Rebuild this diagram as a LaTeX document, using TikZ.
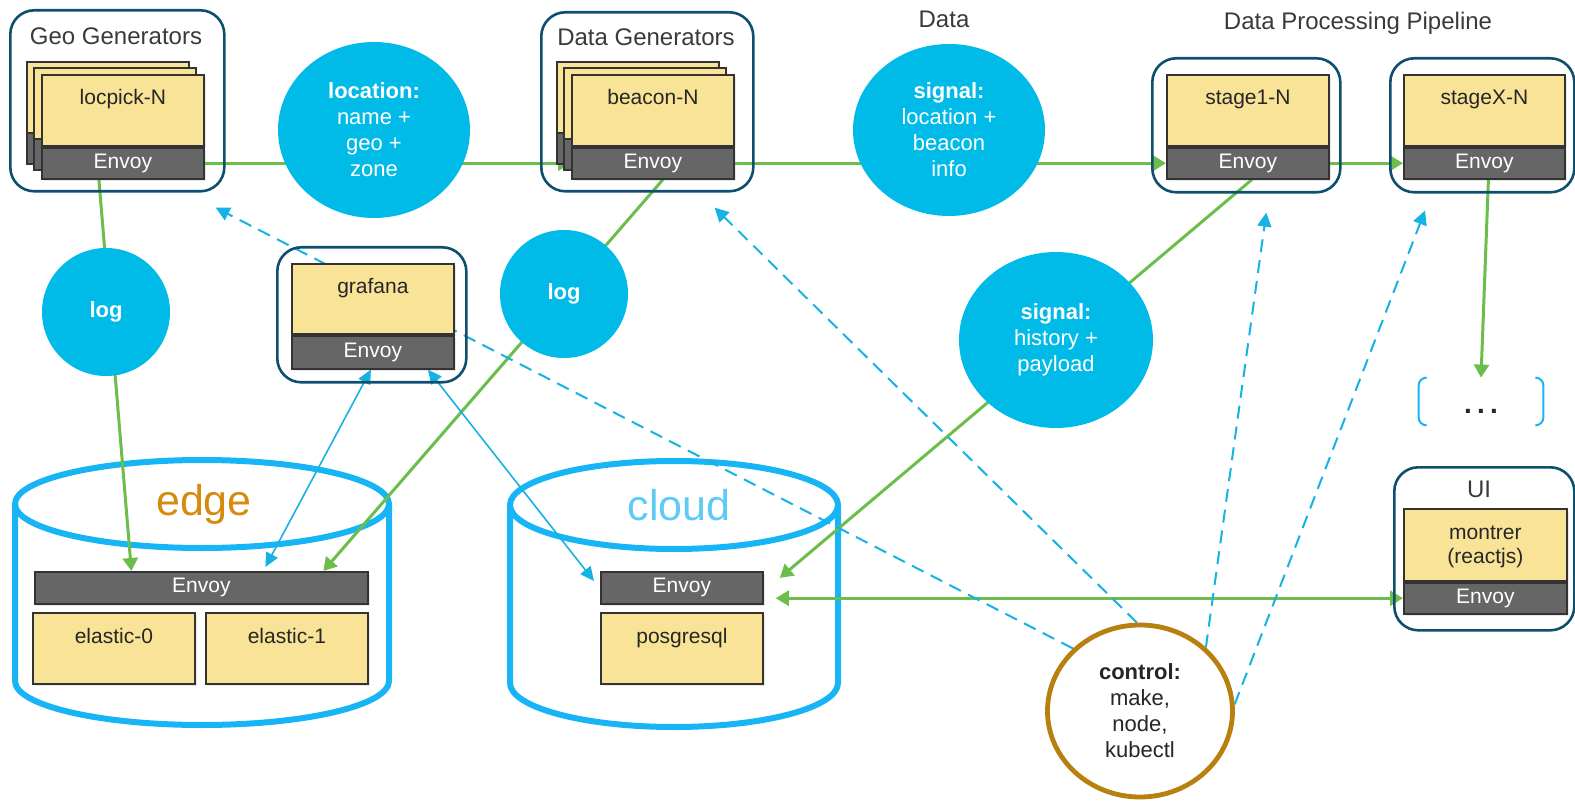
\documentclass[tikz,border=0pt]{standalone}
\usepackage{fontspec}
\setmainfont{Liberation Sans}
\usetikzlibrary{positioning,shapes.geometric,arrows.meta,shadows}
\definecolor{cardyellow}{HTML}{F9E396}
\definecolor{envoygray}{HTML}{666666}
\definecolor{boxteal}{HTML}{0E4E6E}
\definecolor{bubblecyan}{HTML}{00BBE7}
\definecolor{dbblue}{HTML}{17B5F5}
\definecolor{lineblue}{HTML}{16B2E4}
\definecolor{arrowgreen}{HTML}{6BBE4B}
\definecolor{edgeorange}{HTML}{D68A0E}
\definecolor{cloudblue}{HTML}{5CCBF5}
\definecolor{ctrlgold}{HTML}{B8800F}
\definecolor{titlegray}{HTML}{3A3A3A}
\newcommand\cardfont{\fontsize{10.5}{12}\selectfont}
\newcommand\bubfont{\fontsize{11}{13}\selectfont}
\newcommand\ttlfont{\fontsize{12}{14}\selectfont}
\pgfdeclarelayer{bg}
\pgfsetlayers{bg,main}

\begin{document}
\begin{tikzpicture}[x=0.5pt,y=-0.5pt,
  grp/.style={draw=boxteal,line width=1.3pt,rounded corners=12pt,anchor=north west,inner sep=0pt},
  card/.style={draw=black!80,line width=0.9pt,fill=cardyellow,anchor=north west,inner sep=0pt,
    minimum width=81pt,minimum height=35.5pt,
    drop shadow={opacity=0.18,shadow xshift=1pt,shadow yshift=-1pt}},
  cardlbl/.style={anchor=base,yshift=-15.5pt,font=\cardfont,text=black!85},
  envoy/.style={draw=black!80,line width=0.9pt,fill=envoygray,text=white,inner sep=0pt,
    minimum width=81pt,minimum height=15.5pt,font=\cardfont,
    drop shadow={opacity=0.18,shadow xshift=1pt,shadow yshift=-1pt}},
  back/.style={draw=black!80,line width=0.9pt},
  bubble/.style={ellipse,fill=bubblecyan,text=white,align=center,inner sep=0pt,font=\bubfont},
  ttl/.style={anchor=base,font=\ttlfont,text=titlegray},
  db/.style={draw=dbblue,line width=3pt},
  garrow/.style={draw=arrowgreen,line width=1.5pt,-{Triangle[length=6.5pt,width=7.5pt]}},
  barrow/.style={draw=lineblue,line width=0.8pt,
    {Triangle[length=7pt,width=6.5pt]}-{Triangle[length=7pt,width=6.5pt]}},
  ctrl/.style={draw=lineblue,line width=1pt,dash pattern=on 6.5pt off 4pt,
    -{Triangle[length=7pt,width=7pt]}},
  brk/.style={draw=dbblue,line width=1pt,rounded corners=4pt}
]

\newcommand\BRK{3.5pt}

\useasboundingbox (0,0) rectangle (1575,802);

  %% databases
  \begin{pgfonlayer}{bg}
  \draw[db] (15,504) -- (15,681) arc[start angle=180,end angle=360,x radius=93.5pt,y radius=22pt]
    -- (389,504);
  \draw[db] (202,504) ellipse [x radius=93.5pt,y radius=22pt];
  \draw[db] (510,505) -- (510,683) arc[start angle=180,end angle=360,x radius=82pt,y radius=22pt]
    -- (838,505);
  \draw[db] (674,505) ellipse [x radius=82pt,y radius=22pt];
  \end{pgfonlayer}
  \node[font=\fontsize{21.5}{24}\selectfont,text=edgeorange] (edgeLabel) at (204,504) {edge};
  \node[font=\fontsize{21.5}{24}\selectfont,text=cloudblue] (cloudLabel) at (679,505) {cloud};

  %% groups
  \node[grp,minimum width=107pt,minimum height=90.5pt] (geoBox) at (9,9) {};
  \node[grp,minimum width=106pt,minimum height=89.5pt] (dataBox) at (540,11) {};
  \node[grp,minimum width=94pt,minimum height=67pt] (stageOneBox) at (1151,57) {};
  \node[grp,minimum width=92pt,minimum height=67pt] (stageXBox) at (1389,57) {};
  \node[grp,minimum width=94.5pt,minimum height=67.5pt] (grafanaBox) at (276,246) {};
  \node[grp,minimum width=90pt,minimum height=81.5pt] (uiBox) at (1393,466) {};

  %% titles
  \node[ttl] (geoTitle) at (116,45) {Geo Generators};
  \node[ttl] (dataTitle) at (646,46) {Data Generators};
  \node[ttl] (dataLbl) at (944,28) {Data};
  \node[ttl] (pipeTitle) at (1358,30) {Data Processing Pipeline};
  \node[ttl] (uiTitle) at (1479,497) {UI};

  %% stacked copies
  \draw[back,fill=cardyellow] (27,62) rectangle (189,133);
  \draw[back,fill=envoygray] (27,133) rectangle (189,164);
  \draw[back,fill=cardyellow] (34,68) rectangle (196,139);
  \draw[back,fill=envoygray] (34,139) rectangle (196,170);
  \draw[back,fill=cardyellow] (557,62) rectangle (719,133);
  \draw[back,fill=envoygray] (557,133) rectangle (719,164);
  \draw[back,fill=cardyellow] (564,68) rectangle (726,139);
  \draw[back,fill=envoygray] (564,139) rectangle (726,170);

  %% services
  \node[card,label={[cardlbl]north:locpick-N}] (locpick) at (41,74) {};
  \node[envoy,below=0pt of locpick] (locpickEnv) {Envoy};
  \node[card,label={[cardlbl]north:beacon-N}] (beacon) at (571,74) {};
  \node[envoy,below=0pt of beacon] (beaconEnv) {Envoy};
  \node[card,label={[cardlbl]north:stage1-N}] (stageOne) at (1166,74) {};
  \node[envoy,below=0pt of stageOne] (stageOneEnv) {Envoy};
  \node[card,minimum width=80.5pt,label={[cardlbl]north:stageX-N}] (stageX) at (1403,74) {};
  \node[envoy,minimum width=80.5pt,below=0pt of stageX] (stageXEnv) {Envoy};
  \node[card,minimum height=35pt,label={[cardlbl]north:grafana}] (grafana) at (291,263) {};
  \node[envoy,minimum height=16.5pt,below=0pt of grafana] (grafanaEnv) {Envoy};
  \node[card,minimum width=81.5pt,minimum height=36pt,
    label={[anchor=center,yshift=-19.25pt,font=\cardfont,text=black!85,align=center]north:montrer\\(reactjs)}]
    (montrer) at (1403,508) {};
  \node[envoy,minimum width=81.5pt,below=0pt of montrer] (montrerEnv) {Envoy};

  %% storage
  \node[envoy,anchor=north west,minimum width=166.5pt,minimum height=16pt] (edgeEnv) at (34,571) {Envoy};
  \node[card,label={[cardlbl]north:elastic-0}] (elasticZero) at (32,612) {};
  \node[card,label={[cardlbl]north:elastic-1}] (elasticOne) at (205,612) {};
  \node[envoy,anchor=north west,minimum height=16pt] (cloudEnv) at (600,571) {Envoy};
  \node[card,label={[cardlbl]north:posgresql}] (posgresql) at (600,612) {};

  %% messages
  \node[bubble,minimum width=96pt,minimum height=88pt] (location) at (374,130)
    {\textbf{location:}\\name +\\geo +\\zone};
  \node[bubble,minimum width=96pt,minimum height=86pt] (signalData) at (949,130)
    {\textbf{signal:}\\location +\\beacon\\info};
  \node[bubble,minimum width=97pt,minimum height=88pt] (signalHist) at (1056,340)
    {\textbf{signal:}\\history +\\payload};
  \node[bubble,minimum size=64pt] (logGeo) at (106,312) {\textbf{log}};
  \node[bubble,minimum size=64pt] (logData) at (564,294) {\textbf{log}};
  \node[ellipse,draw=ctrlgold,line width=2.4pt,fill=white,minimum width=92.5pt,minimum height=86pt,
    inner sep=0pt,align=center,font=\bubfont,text=black!85] (control) at (1140,711)
    {\textbf{control:}\\make,\\node,\\kubectl};

  %% more stages
  \node[minimum width=62pt,minimum height=23.5pt,inner sep=0pt,text height=12.5pt,text depth=0pt,
    font=\fontsize{14}{14}\selectfont\bfseries,text=black!85] (more) at (1481,401.5)
    {.\hspace{2.6pt}.\hspace{2.6pt}.};
  \draw[brk] ([xshift=\BRK]more.north west) -- (more.north west) -- (more.south west)
    -- ([xshift=\BRK]more.south west);
  \draw[brk] ([xshift=-\BRK]more.north east) -- (more.north east) -- (more.south east)
    -- ([xshift=-\BRK]more.south east);

  \begin{pgfonlayer}{bg}
  %% data flow
  \draw[garrow] (locpickEnv.east) -- (beaconEnv.west);
  \draw[garrow] (beaconEnv.east) -- (stageOneEnv.west);
  \draw[garrow] (stageOneEnv.east) -- (stageXEnv.west);
  \draw[garrow] ([xshift=2pt]stageXEnv.south) -- (more.north);
  \draw[garrow] ([xshift=-12pt]locpickEnv.south) -- ([xshift=-35pt]edgeEnv.north);
  \draw[garrow] ([xshift=5pt]beaconEnv.south) -- ([xshift=61pt]edgeEnv.north);
  \draw[garrow] ([xshift=2pt]stageOneEnv.south) -- ([xshift=8pt,yshift=5pt]cloudEnv.east);
  \coordinate (cloudR) at ([xshift=6pt]cloudEnv.east);
  \coordinate (cloudIn) at (cloudR |- montrerEnv.west);
  \draw[garrow,{Triangle[length=6.5pt,width=7.5pt]}-{Triangle[length=6.5pt,width=7.5pt]}]
    (cloudIn) -- (montrerEnv.west);

  %% dashboards
  \draw[barrow] ([xshift=-1pt]grafanaEnv.south) -- ([xshift=32pt,yshift=2pt]edgeEnv.north);
  \draw[barrow] ([xshift=27.5pt]grafanaEnv.south) -- ([xshift=-3pt,yshift=-5pt]cloudEnv.north west);

  %% control
  \draw[ctrl] (control.137) -- ([xshift=-5pt,yshift=-7.5pt]geoBox.south east);
  \draw[ctrl] (control.92) -- ([xshift=-20pt,yshift=-7.5pt]dataBox.south east);
  \draw[ctrl] (control.44) -- ([xshift=10pt,yshift=-9.5pt]stageOneBox.south);
  \draw[ctrl] (control.4) -- ([xshift=18pt,yshift=-8.5pt]stageXBox.south west);
  \end{pgfonlayer}

\end{tikzpicture}
\end{document}
